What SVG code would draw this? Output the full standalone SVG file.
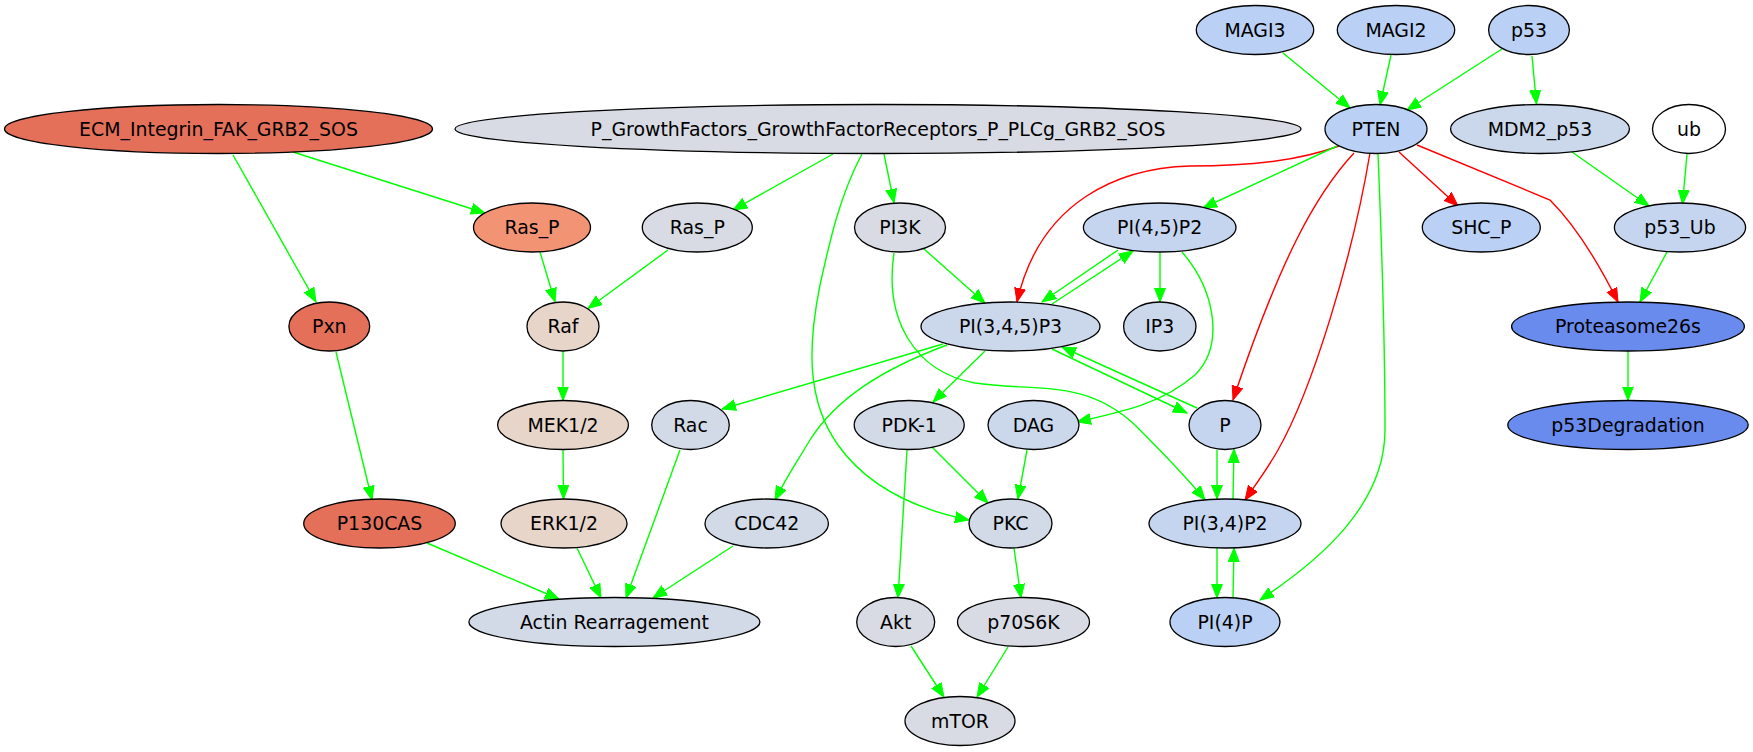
<svg xmlns="http://www.w3.org/2000/svg" width="1753" height="752" viewBox="0 0 1753 752">
<style>
.n ellipse{stroke:#000;stroke-width:1.3}
.n text{font-family:"DejaVu Sans","Liberation Sans",sans-serif;font-size:18.9px;text-anchor:middle;fill:#000}
.g{fill:none;stroke:#00ff00;stroke-width:1.4;marker-end:url(#ag)}
.r{fill:none;stroke:#ff0000;stroke-width:1.4;marker-end:url(#ar)}
.c1{fill:#e5705a}.c2{fill:#f29474}.c3{fill:#e7d5ca}.c4{fill:#d8dbe3}.c5{fill:#d2dae7}.c6{fill:#cbd8ec}.c7{fill:#c5d5f0}.c8{fill:#bad1f5}.c9{fill:#6a8bee}.c0{fill:#ffffff}
</style>
<defs>
<marker id="ag" markerUnits="userSpaceOnUse" markerWidth="16" markerHeight="14" refX="14" refY="6" orient="auto"><path d="M0,0.5 L14,6 L0,11.5 z" fill="#00ff00" stroke="#00ff00" stroke-width="1"/></marker>
<marker id="ar" markerUnits="userSpaceOnUse" markerWidth="16" markerHeight="14" refX="14" refY="6" orient="auto"><path d="M0,0.5 L14,6 L0,11.5 z" fill="#ff0000" stroke="#ff0000" stroke-width="1"/></marker>
</defs>
<rect width="1753" height="752" fill="#fff"/>
<g id="edges">
<path class="g" d="M233,155 L316,302"/>
<path class="g" d="M293,152 L485,213"/>
<path class="g" d="M833,154 L733,210"/>
<path class="g" d="M884,154 L894,203"/>
<path class="g" d="M862,154 C840,195 830,240 820,285 C808,345 806,400 838,445 C870,490 920,510 969,520"/>
<path class="r" d="M1339,146 C1300,160 1255,166 1190,166 C1120,168 1040,200 1017,302"/>
<path class="g" d="M1337,146 L1203,208"/>
<path class="r" d="M1354,153 C1315,195 1280,260 1233,400"/>
<path class="r" d="M1370,153 C1352,260 1312,390 1278,450 C1268,468 1256,484 1245,500"/>
<path class="g" d="M1378,154 C1382,250 1385,340 1385,430 C1385,505 1320,560 1260,600"/>
<path class="r" d="M1399,152 L1458,206"/>
<path class="r" d="M1417,145 L1550,200 C1575,225 1598,262 1618,302"/>
<path class="g" d="M1283,53 L1350,108"/>
<path class="g" d="M1391,55 L1380,105"/>
<path class="g" d="M1502,49 L1407,110"/>
<path class="g" d="M1532,56 L1536.5,104"/>
<path class="g" d="M1572,152 L1649,206"/>
<path class="g" d="M1687,154 L1682.5,204"/>
<path class="g" d="M1667,252 L1640,302"/>
<path class="g" d="M1628,351 L1628,400.5"/>
<path class="g" d="M540,252 L555,302"/>
<path class="g" d="M668,250 L588,308.5"/>
<path class="g" d="M924,249 L985,303"/>
<path class="g" d="M894,253 C884,320 915,372 975,383 C1035,392 1085,378 1135,425 C1160,450 1185,475 1205,500"/>
<path class="g" d="M1118,250 L1042,302"/>
<path class="g" d="M1052,304 L1133,251"/>
<path class="g" d="M1160,252 L1160,302"/>
<path class="g" d="M1182,252 C1215,290 1225,345 1195,375 C1160,405 1120,412 1077,422"/>
<path class="g" d="M1052,349 L1187,413"/>
<path class="g" d="M1197,408 L1062,347"/>
<path class="g" d="M985,351 L933,402"/>
<path class="g" d="M943,344 L722,409"/>
<path class="g" d="M947,345 C880,370 835,400 810,440 C795,465 785,480 775,500"/>
<path class="g" d="M932,447 L988,503"/>
<path class="g" d="M907,450 L898,598"/>
<path class="g" d="M1027,450 L1018,499"/>
<path class="g" d="M1014,548 L1021,598"/>
<path class="g" d="M911,646 L944,697"/>
<path class="g" d="M1008,647 L977,697"/>
<path class="g" d="M1217,450 L1217,499"/>
<path class="g" d="M1233,499 L1234,449"/>
<path class="g" d="M1217,548 L1217,598"/>
<path class="g" d="M1233,598 L1234,548"/>
<path class="g" d="M563,351 L563,400.5"/>
<path class="g" d="M563,449.5 L563.5,499"/>
<path class="g" d="M336,352 L372,500"/>
<path class="g" d="M427,543 L559,599"/>
<path class="g" d="M577,548 L601,598"/>
<path class="g" d="M680,450 L626,598"/>
<path class="g" d="M733,546 L653,598"/>
</g>
<g id="MAGI3" class="n"><ellipse class="c8" cx="1255" cy="30" rx="58.7" ry="24.5"/><text x="1255" y="36.8">MAGI3</text></g>
<g id="MAGI2" class="n"><ellipse class="c8" cx="1396" cy="30" rx="58.7" ry="24.5"/><text x="1396" y="36.8">MAGI2</text></g>
<g id="p53" class="n"><ellipse class="c8" cx="1529" cy="30" rx="40.4" ry="24.5"/><text x="1529" y="36.8">p53</text></g>
<g id="ECM_Integrin_FAK_GRB2_SOS" class="n"><ellipse class="c1" cx="218.5" cy="129" rx="214" ry="24.5"/><text x="218.5" y="135.8">ECM_Integrin_FAK_GRB2_SOS</text></g>
<g id="P_GrowthFactors" class="n"><ellipse class="c4" cx="878" cy="129" rx="423" ry="24.5"/><text x="878" y="135.8">P_GrowthFactors_GrowthFactorReceptors_P_PLCg_GRB2_SOS</text></g>
<g id="PTEN" class="n"><ellipse class="c8" cx="1376" cy="129" rx="51" ry="24.5"/><text x="1376" y="135.8">PTEN</text></g>
<g id="MDM2_p53" class="n"><ellipse class="c6" cx="1540" cy="129" rx="89.4" ry="24.5"/><text x="1540" y="135.8">MDM2_p53</text></g>
<g id="ub" class="n"><ellipse class="c0" cx="1689" cy="129" rx="36.5" ry="24.5"/><text x="1689" y="135.8">ub</text></g>
<g id="Ras_P_1" class="n"><ellipse class="c2" cx="532" cy="227.5" rx="58.5" ry="24.5"/><text x="532" y="234.3">Ras_P</text></g>
<g id="Ras_P_2" class="n"><ellipse class="c4" cx="697.3" cy="227.5" rx="55" ry="24.5"/><text x="697.3" y="234.3">Ras_P</text></g>
<g id="PI3K" class="n"><ellipse class="c4" cx="900" cy="227.5" rx="45.5" ry="24.5"/><text x="900" y="234.3">PI3K</text></g>
<g id="PI45P2" class="n"><ellipse class="c7" cx="1159.7" cy="227.5" rx="76.3" ry="24.5"/><text x="1159.7" y="234.3">PI(4,5)P2</text></g>
<g id="SHC_P" class="n"><ellipse class="c8" cx="1481.3" cy="227.5" rx="59" ry="24.5"/><text x="1481.3" y="234.3">SHC_P</text></g>
<g id="p53_Ub" class="n"><ellipse class="c7" cx="1680" cy="227.5" rx="65.6" ry="24.5"/><text x="1680" y="234.3">p53_Ub</text></g>
<g id="Pxn" class="n"><ellipse class="c1" cx="329.3" cy="326.5" rx="40.4" ry="24.5"/><text x="329.3" y="333.3">Pxn</text></g>
<g id="Raf" class="n"><ellipse class="c3" cx="563" cy="326.5" rx="36" ry="24.5"/><text x="563" y="333.3">Raf</text></g>
<g id="PI345P3" class="n"><ellipse class="c6" cx="1010.5" cy="326.5" rx="89.5" ry="24.5"/><text x="1010.5" y="333.3">PI(3,4,5)P3</text></g>
<g id="IP3" class="n"><ellipse class="c6" cx="1159.8" cy="326.5" rx="36.2" ry="24.5"/><text x="1159.8" y="333.3">IP3</text></g>
<g id="Proteasome26s" class="n"><ellipse class="c9" cx="1628" cy="326.5" rx="116.4" ry="24.5"/><text x="1628" y="333.3">Proteasome26s</text></g>
<g id="MEK12" class="n"><ellipse class="c3" cx="563" cy="425" rx="65.4" ry="24.5"/><text x="563" y="431.8">MEK1/2</text></g>
<g id="Rac" class="n"><ellipse class="c5" cx="690.5" cy="425" rx="38.8" ry="24.5"/><text x="690.5" y="431.8">Rac</text></g>
<g id="PDK-1" class="n"><ellipse class="c5" cx="909.2" cy="425" rx="55" ry="24.5"/><text x="909.2" y="431.8">PDK-1</text></g>
<g id="DAG" class="n"><ellipse class="c6" cx="1033.5" cy="425" rx="45.5" ry="24.5"/><text x="1033.5" y="431.8">DAG</text></g>
<g id="P" class="n"><ellipse class="c7" cx="1225" cy="425" rx="36" ry="24.5"/><text x="1225" y="431.8">P</text></g>
<g id="p53Degradation" class="n"><ellipse class="c9" cx="1628" cy="425" rx="120.2" ry="24.5"/><text x="1628" y="431.8">p53Degradation</text></g>
<g id="P130CAS" class="n"><ellipse class="c1" cx="379.5" cy="523.5" rx="75.8" ry="24.5"/><text x="379.5" y="530.3">P130CAS</text></g>
<g id="ERK12" class="n"><ellipse class="c3" cx="564" cy="523.5" rx="63" ry="24.5"/><text x="564" y="530.3">ERK1/2</text></g>
<g id="CDC42" class="n"><ellipse class="c5" cx="766.7" cy="523.5" rx="61.7" ry="24.5"/><text x="766.7" y="530.3">CDC42</text></g>
<g id="PKC" class="n"><ellipse class="c5" cx="1010.5" cy="523.5" rx="41.5" ry="24.5"/><text x="1010.5" y="530.3">PKC</text></g>
<g id="PI34P2" class="n"><ellipse class="c7" cx="1225" cy="523.5" rx="76" ry="24.5"/><text x="1225" y="530.3">PI(3,4)P2</text></g>
<g id="Actin" class="n"><ellipse class="c5" cx="614.4" cy="622" rx="145.5" ry="24.5"/><text x="614.4" y="628.8">Actin Rearragement</text></g>
<g id="Akt" class="n"><ellipse class="c4" cx="895.7" cy="622" rx="39" ry="24.5"/><text x="895.7" y="628.8">Akt</text></g>
<g id="p70S6K" class="n"><ellipse class="c4" cx="1023.5" cy="622" rx="66" ry="24.5"/><text x="1023.5" y="628.8">p70S6K</text></g>
<g id="PI4P" class="n"><ellipse class="c8" cx="1225" cy="622" rx="55" ry="24.5"/><text x="1225" y="628.8">PI(4)P</text></g>
<g id="mTOR" class="n"><ellipse class="c4" cx="960" cy="721" rx="55" ry="24.5"/><text x="960" y="727.8">mTOR</text></g>
</svg>
